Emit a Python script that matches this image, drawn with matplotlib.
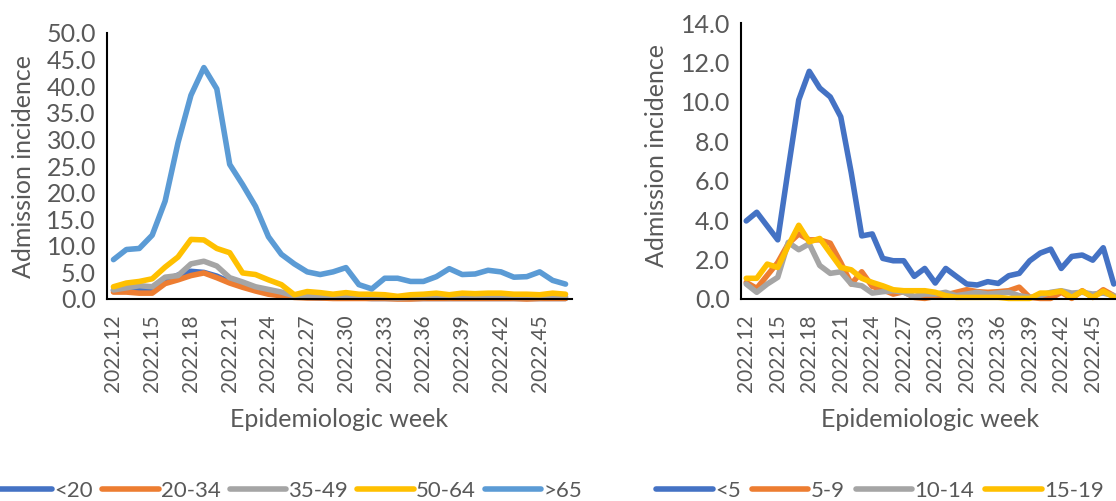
import matplotlib
matplotlib.use("Agg")
import matplotlib.pyplot as plt
import numpy as np

plt.rcParams['font.family'] = ['Lato', 'DejaVu Sans']

weeks = [f"2022.{w}" for w in range(12, 48)]

# Left chart: adult age groups
left_labels = ["<20", "20-34", "35-49", "50-64", ">65"]
lt20 = [1.6, 1.8, 2.0, 2.0, 3.5, 4.5, 5.2, 5.0, 4.3, 3.2, 2.5, 1.8, 1.2, 0.7, 0.4, 0.3,
        0.2, 0.2, 0.2, 0.2, 0.1, 0.1, 0.1, 0.1, 0.1, 0.1, 0.1, 0.1, 0.1, 0.1, 0.1, 0.1,
        0.1, 0.1, 0.1, 0.1]
a20_34 = [1.3, 1.3, 1.1, 1.1, 2.9, 3.6, 4.4, 4.9, 4.0, 3.0, 2.2, 1.5, 0.9, 0.6, 0.3, 0.2,
          0.2, 0.1, 0.1, 0.1, 0.1, 0.1, 0.0, 0.0, 0.1, 0.1, 0.1, 0.1, 0.1, 0.1, 0.1, 0.1,
          0.0, 0.1, 0.1, 0.1]
a35_49 = [1.7, 2.1, 2.5, 2.3, 4.1, 4.4, 6.6, 7.1, 6.2, 4.0, 3.2, 2.3, 1.8, 1.3, 0.6, 0.5,
          0.4, 0.3, 0.4, 0.4, 0.3, 0.3, 0.2, 0.3, 0.3, 0.4, 0.3, 0.4, 0.4, 0.4, 0.4, 0.3,
          0.3, 0.3, 0.4, 0.4]
a50_64 = [2.3, 3.0, 3.3, 3.8, 6.0, 7.9, 11.2, 11.1, 9.5, 8.7, 4.9, 4.6, 3.6, 2.7, 0.8, 1.4,
          1.2, 0.9, 1.2, 0.9, 0.9, 0.8, 0.5, 0.8, 0.9, 1.1, 0.8, 1.1, 1.0, 1.1, 1.1, 0.9,
          0.9, 0.8, 1.1, 0.9]
gt65 = [7.4, 9.3, 9.5, 12.0, 18.4, 29.4, 38.3, 43.5, 39.5, 25.3, 21.5, 17.4, 11.7, 8.4, 6.6, 5.1,
        4.6, 5.1, 5.9, 2.7, 1.9, 3.9, 3.9, 3.3, 3.3, 4.2, 5.7, 4.6, 4.7, 5.4, 5.1, 4.1,
        4.2, 5.1, 3.5, 2.8]

# Right chart: child age groups
right_labels = ["<5", "5-9", "10-14", "15-19"]
lt5 = [3.96, 4.4, 3.7, 3.0, 6.6, 10.1, 11.55, 10.7, 10.25, 9.24, 6.4, 3.2, 3.3, 2.06, 1.94, 1.94,
       1.15, 1.55, 0.81, 1.55, 1.15, 0.76, 0.71, 0.88, 0.79, 1.18, 1.3, 1.94, 2.33, 2.53, 1.55, 2.16,
       2.23, 1.97, 2.6, 0.76]
a5_9 = [0.84, 0.54, 1.2, 1.85, 2.8, 3.3, 3.0, 3.0, 2.83, 1.85, 0.76, 1.38, 0.64, 0.47, 0.25, 0.37,
        0.08, 0.03, 0.13, 0.2, 0.34, 0.47, 0.37, 0.34, 0.37, 0.42, 0.6, 0.08, 0.03, 0.03, 0.34, 0.03,
        0.42, 0.08, 0.47, 0.17]
a10_14 = [0.76, 0.34, 0.76, 1.1, 2.87, 2.5, 2.8, 1.7, 1.3, 1.38, 0.76, 0.67, 0.3, 0.37, 0.42, 0.34,
          0.13, 0.25, 0.25, 0.34, 0.17, 0.25, 0.34, 0.25, 0.3, 0.34, 0.17, 0.08, 0.17, 0.34, 0.42, 0.3,
          0.34, 0.25, 0.3, 0.17]
a15_19 = [1.05, 1.05, 1.77, 1.6, 2.7, 3.74, 2.9, 3.07, 2.33, 1.6, 1.48, 1.05, 0.84, 0.67, 0.47, 0.42,
          0.42, 0.42, 0.34, 0.17, 0.08, 0.08, 0.08, 0.08, 0.08, 0.03, 0.03, 0.03, 0.3, 0.3, 0.4, 0.08,
          0.4, 0.08, 0.4, 0.1]

left_series = [lt20, a20_34, a35_49, a50_64, gt65]
right_series = [lt5, a5_9, a10_14, a15_19]
left_colors = ["#4472C4", "#ED7D31", "#A5A5A5", "#FFC000", "#5B9BD5"]
right_colors = ["#4472C4", "#ED7D31", "#A5A5A5", "#FFC000"]

W, H = 1116, 501
fig = plt.figure(figsize=(W / 100, H / 100), dpi=100)

text_color = "#595959"
tick_fs = 15
ytick_fs = 18
label_fs = 18
legend_fs = 16
lw = 4.0


def setup(ax, ymax, ystep, series, colors, labels):
    x = np.arange(len(weeks))
    handles = []
    for s, c, lab in zip(series, colors, labels):
        h, = ax.plot(x, s, color=c, lw=lw, solid_joinstyle='round', solid_capstyle='round',
                     label=lab, clip_on=False)
        handles.append(h)
    ax.set_xlim(-0.5, len(weeks) - 0.5)
    ax.set_ylim(0, ymax)
    ax.set_yticks(np.arange(0, ymax + 0.001, ystep))
    ax.set_yticklabels([f"{v:.1f}" for v in np.arange(0, ymax + 0.001, ystep)])
    ax.set_xticks(x[::3])
    ax.set_xticklabels(weeks[::3], rotation=90)
    ax.tick_params(length=0, colors=text_color)
    ax.tick_params(axis='y', pad=8, labelsize=ytick_fs)
    ax.tick_params(axis='x', pad=11, labelsize=tick_fs)
    for sp in ["top", "right"]:
        ax.spines[sp].set_visible(False)
    for sp in ["left", "bottom"]:
        ax.spines[sp].set_color("black")
        ax.spines[sp].set_linewidth(1.5)
    ax.set_ylabel("Admission incidence", fontsize=label_fs, color=text_color)
    ax.set_xlabel("Epidemiologic week", fontsize=label_fs, color=text_color)
    return handles


ax1 = fig.add_axes([107 / W, 1 - 299 / H, 465 / W, 266 / H])
h1 = setup(ax1, 50, 5, left_series, left_colors, left_labels)
ax1.yaxis.set_label_coords(-0.155, 0.5)
ax1.xaxis.set_label_coords(0.5, (299 - 408) / 266)

ax2 = fig.add_axes([741 / W, 1 - 299 / H, 378 / W, 276 / H])
h2 = setup(ax2, 14, 2, right_series, right_colors, right_labels)
ax2.yaxis.set_label_coords(-0.193, 0.52)
ax2.xaxis.set_label_coords(0.5, (299 - 408) / 276)

leg_kw = dict(ncol=5, frameon=False, fontsize=legend_fs, handlelength=2.55, handletextpad=0.1,
              columnspacing=0.4, labelcolor=text_color, loc="center")
fig.legend(handles=h1, bbox_to_anchor=(289 / W, 1 - 491 / H), **leg_kw)
leg_kw["ncol"] = 4
leg_kw["columnspacing"] = 0.5
fig.legend(handles=h2, bbox_to_anchor=(880 / W, 1 - 491 / H), **leg_kw)

fig.savefig("out.png", dpi=100)
